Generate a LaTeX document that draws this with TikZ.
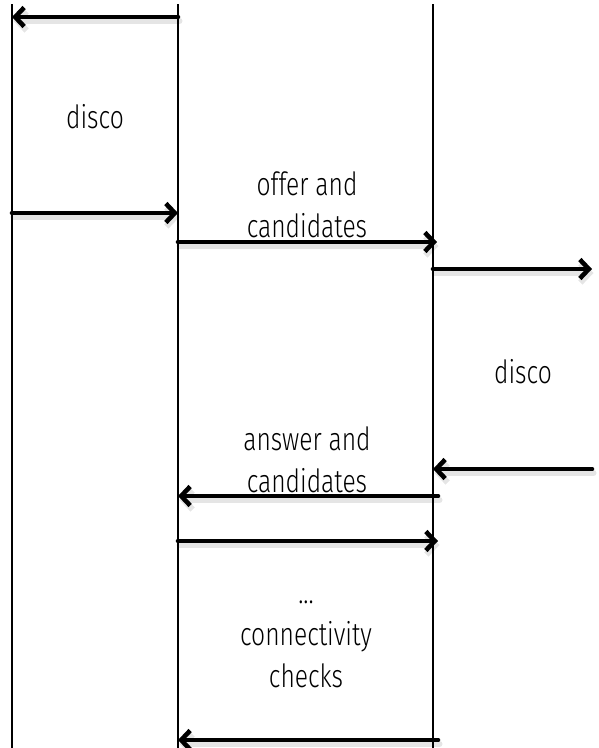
\documentclass[tikz,border=0pt]{standalone}
\usepackage{fontspec}
\setmainfont{Fira Sans}[UprightFont=* Light, FakeStretch=0.77]
\usetikzlibrary{arrows.meta}
\begin{document}
\begin{tikzpicture}[x=1pt, y=-1pt, line cap=round, line join=round, >={Straight Barb[length=9pt,width=19pt]},
	font=\fontsize{32}{42}\selectfont]
	\tikzset{lifeline/.style={line width=2.4pt, line cap=butt},
		msg/.style={->, line width=4.6pt, preaction={draw=black!10, line width=6pt, transform canvas={shift={(1.5pt,-4pt)}}}},
		label style/.style={align=center, inner sep=0pt}}
	\useasboundingbox (0,0) rectangle (599,748);
	\coordinate (L1) at (12,4); \coordinate (L1e) at (12,748);
	\coordinate (L2) at (178,4); \coordinate (L2e) at (178,748);
	\coordinate (L3) at (433,4); \coordinate (L3e) at (433,748);
	\coordinate (R) at (592,0);
	\draw[msg] (L2 |- 0,17)--(L1 |- 0,17);
	\draw[msg] (L1 |- 0,213)--(L2 |- 0,213);
	\draw[msg] (L2 |- 0,242)--([xshift=4pt]L3 |- 0,242);
	\draw[msg] (L3 |- 0,269)--(R |- 0,269);
	\draw[msg] (R |- 0,469)--(L3 |- 0,469);
	\draw[msg] ([xshift=5pt]L3 |- 0,496)--(L2 |- 0,496);
	\draw[msg] (L2 |- 0,541)--([xshift=5pt]L3 |- 0,541);
	\draw[msg] ([xshift=5pt]L3 |- 0,740)--(L2 |- 0,740);
	\draw[lifeline] (L1)--(L1e);
	\draw[lifeline] (L2)--(L2e);
	\draw[lifeline] (L3)--(L3e);
	\node[label style] (disco1) at (95,117) {disco};
	\node[label style] (offer) at (307,205) {offer and\\candidates};
	\node[label style] (disco2) at (523,372) {disco};
	\node[label style] (answer) at (307,460) {answer and\\candidates};
	\node[label style] (checks) at (306,644) {...\\connectivity\\checks};
\end{tikzpicture}
\end{document}
